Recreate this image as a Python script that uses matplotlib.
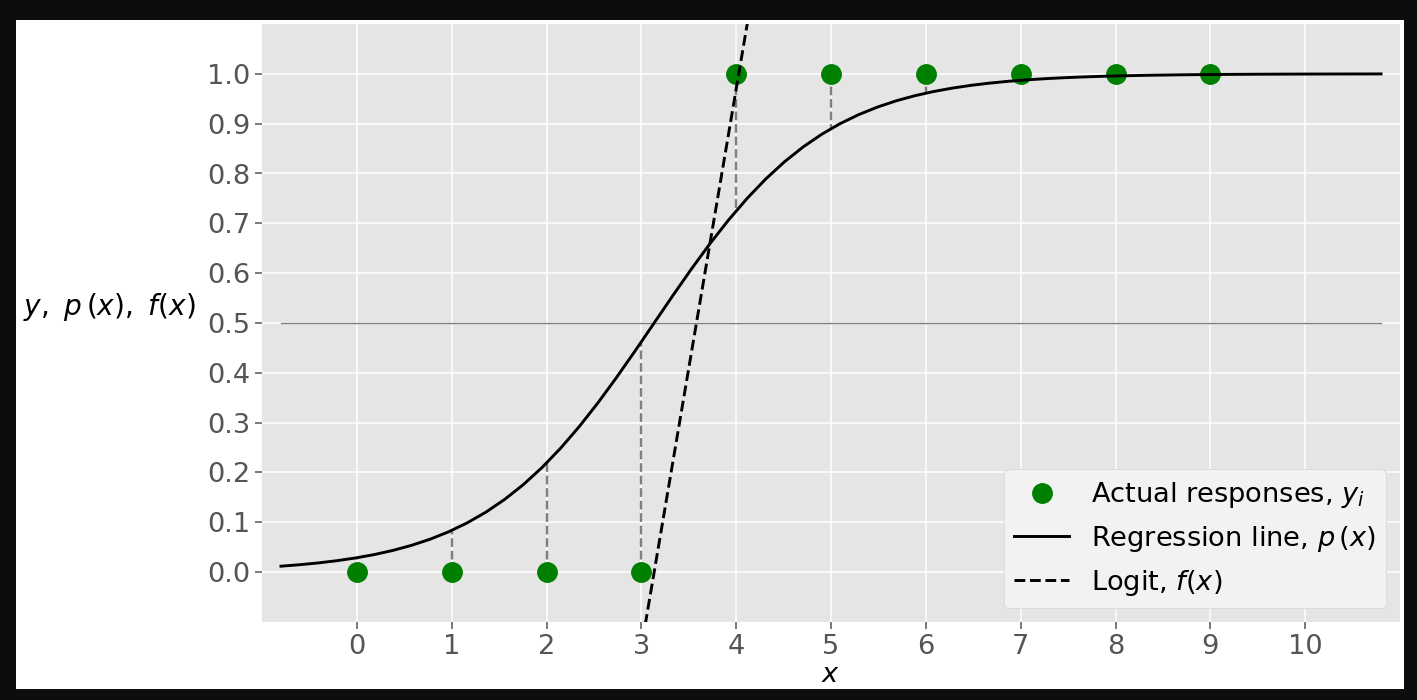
import numpy as np
import matplotlib
matplotlib.use('Agg')
import matplotlib.pyplot as plt
from matplotlib.patches import Rectangle

# observations
x_obs = [0, 1, 2, 3, 4, 5, 6, 7, 8, 9]
y_obs = [0, 0, 0, 0, 1, 1, 1, 1, 1, 1]

# fitted logit f(x) = b0 + b1*x (f = 0 near x = 3.13)
b0 = -3.5134
b1 = 1.1207

# range of the drawn lines
x_min, x_max = -0.8, 10.8

x_ticks = list(range(0, 11))
y_ticks = [0.0, 0.1, 0.2, 0.3, 0.4, 0.5, 0.6, 0.7, 0.8, 0.9, 1.0]


def logit(x):
    return b0 + b1 * np.asarray(x, dtype=float)


def prob(x):
    return 1.0 / (1.0 + np.exp(-logit(x)))


def main():
    plt.style.use('ggplot')
    fs = 19.6

    fig = plt.figure(figsize=(14.17, 7.0), dpi=100, facecolor='#0d0d0d')
    fig.add_artist(Rectangle((16 / 1417, 1 - 689 / 700), (1404 - 16) / 1417, (689 - 20) / 700,
                             transform=fig.transFigure, facecolor='white', edgecolor='none', zorder=-10))
    ax = fig.add_axes([262 / 1417, 1 - 622 / 700, 1138 / 1417, 598 / 700])
    ax.set_facecolor('#E5E5E5')

    xs = np.linspace(x_min, x_max, 60)

    # residual segments
    p_obs = prob(x_obs)
    for xi, yi, pi in zip(x_obs, y_obs, p_obs):
        ax.plot([xi, xi], [yi, pi], color='#7f7f7f', ls='--', lw=1.7, zorder=2)

    ax.plot([x_min, x_max], [0.5, 0.5], color='#808080', lw=1.0, zorder=2)

    ax.plot(x_obs, y_obs, 'o', color='green', ms=14, ls='none', zorder=3,
            label=r'Actual responses, $y_i$')
    ax.plot(xs, prob(xs), color='black', lw=2.1, zorder=4,
            label=r'Regression line, $p\,(x)$')
    ax.plot(xs, logit(xs), color='black', ls='--', lw=2.1, zorder=4,
            label=r'Logit, $f(x)$')

    ax.set_xlim(-1, 11)
    ax.set_ylim(-0.1, 1.1)
    ax.set_xticks(x_ticks)
    ax.set_yticks(y_ticks)
    ax.set_yticklabels([f'{v:.1f}' for v in y_ticks])
    ax.tick_params(labelsize=fs, colors='#555555', length=4.9, width=1.1)
    ax.grid(True, color='white', lw=1.1)
    for s in ax.spines.values():
        s.set_visible(False)

    ax.set_xlabel(r'$x$', fontsize=fs, color='black', labelpad=2)
    ax.set_ylabel(r'$y,\ p\,(x),\ f(x)$', fontsize=20.2, color='black', rotation=0,
                  ha='right', va='bottom')
    ax.yaxis.set_label_coords(-0.058, 0.5)

    leg = ax.legend(loc='lower right', fontsize=fs, facecolor='#F2F2F2', edgecolor='#D5D5D5',
                    framealpha=1.0, borderaxespad=0.5)
    for t in leg.get_texts():
        t.set_color('black')

    fig.savefig('out.png', dpi=100, facecolor=fig.get_facecolor())


if __name__ == "__main__":
    main()
